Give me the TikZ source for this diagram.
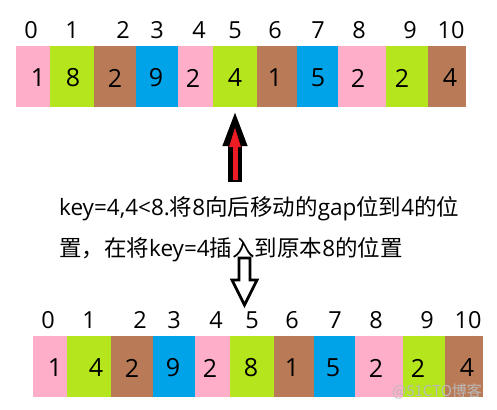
\documentclass[tikz,border=0pt]{standalone}
\usepackage{fontspec}
\setmainfont{Open Sans}
\newfontfamily\cjk{Noto Sans CJK SC}
\usepackage{tikz}
\usetikzlibrary{arrows.meta}

\definecolor{pinkc}{HTML}{FFAEC9}
\definecolor{greenc}{HTML}{B5E61D}
\definecolor{brownc}{HTML}{B97A57}
\definecolor{bluec}{HTML}{00A2E8}
\definecolor{paintred}{HTML}{ED1C24}

\tikzset{
    cell/.style={minimum height=61pt, inner sep=0pt, outer sep=0pt},
    idx/.style={inner sep=0pt, font=\fontsize{23.5}{23.5}\selectfont},
    val/.style={inner sep=0pt, font=\fontsize{25}{25}\selectfont},
    note/.style={anchor=base west, inner sep=0pt, font=\fontsize{22.5}{22.5}\selectfont},
}

\begin{document}
\begin{tikzpicture}[x=1pt, y=-1pt]
    \useasboundingbox (0,0) rectangle (497,409);

    % Array before the step
    \foreach \i/\l/\r/\c/\v/\p/\q in {0/16/50/pinkc/1/38/31, 1/50/94/greenc/8/73/72,
        2/94/136/brownc/2/115/123, 3/136/178/bluec/9/156/157, 4/178/213/pinkc/2/193/199,
        5/213/257/greenc/4/235/235, 6/257/297/brownc/1/275/275, 7/297/338/bluec/5/318/318,
        8/338/386/pinkc/2/358/359, 9/386/428/greenc/2/402/410, 10/428/466/brownc/4/450/451} {
        \pgfmathsetmacro{\w}{\r-\l}
        \node[cell, fill=\c, minimum width=\w pt] (t\i) at ({(\l+\r)/2}, 76.5) {};
        \node[val] (tv\i) at (\p, 78) {\v};
        \node[idx] (ti\i) at (\q, 30) {\i};
    }

    % Array after the step
    \begin{scope}[shift={(17,290)}]
    \foreach \i/\l/\r/\c/\v/\p/\q in {0/16/50/pinkc/1/38/31, 1/50/94/greenc/4/79/72,
        2/94/136/brownc/2/115/123, 3/136/178/bluec/9/156/157, 4/178/213/pinkc/2/193/199,
        5/213/257/greenc/8/234/235, 6/257/297/brownc/1/275/275, 7/297/338/bluec/5/316/318,
        8/338/386/pinkc/2/359/359, 9/386/428/greenc/2/401/410, 10/428/466/brownc/4/450/451} {
        \pgfmathsetmacro{\w}{\r-\l}
        \node[cell, fill=\c, minimum width=\w pt] (b\i) at ({(\l+\r)/2}, 76.5) {};
        \node[val] (bv\i) at (\p, 78) {\v};
        \node[idx] (bi\i) at (\q, 30) {\i};
    }
    \end{scope}

    % Red arrow pointing at the key
    \coordinate (keyup) at (235,182);
    \draw[line width=14pt, -{Triangle[width=22pt, length=36pt]}, shorten >=3pt] (keyup) -- (t5.south);
    \draw[paintred, line width=5pt, -{Triangle[width=10pt, length=22pt]}, shorten >=18pt, shorten <=2pt] (keyup) -- (t5.south);

    % Explanation
    \node[note] (line1) at (59,215) {key=4,4<8.{\cjk 将}8{\cjk 向后移动的}gap{\cjk 位到}4{\cjk 的位}};
    \node[note] (line2) at (59,256) {{\cjk 置，在将}key=4{\cjk 插入到原本}8{\cjk 的位置}};

    % Hollow arrow down to the new array
    \coordinate (gap) at (244.5,258);
    \draw[line width=2.8pt, fill=white] (gap) ++(-5.5,0) -- ++(11,0) -- ++(0,22) -- ++(7,0)
        -- ++(-12.5,25) -- ++(-12.5,-25) -- ++(7,0) -- cycle;

    % Watermark
    \node[text=gray!55, font=\cjk\fontsize{15}{15}\selectfont] (mark) at (437,391) {@51CTO博客};
\end{tikzpicture}
\end{document}
